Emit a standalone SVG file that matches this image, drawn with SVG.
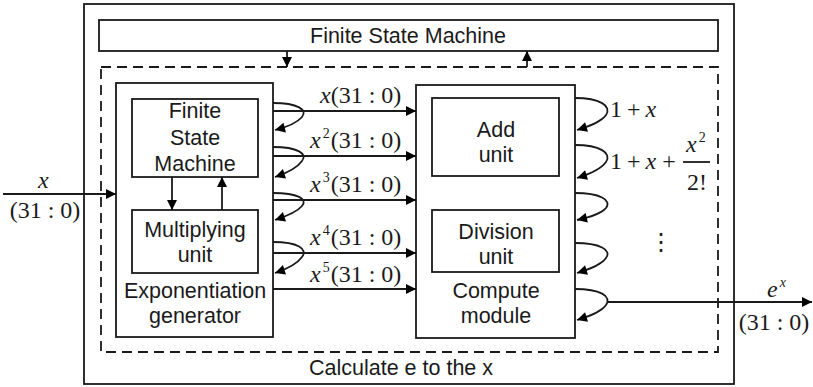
<svg xmlns="http://www.w3.org/2000/svg" width="813" height="387" viewBox="0 0 813 387">
<defs>
<marker id="ah" viewBox="0 0 10 10" refX="10" refY="5" markerWidth="11" markerHeight="10" markerUnits="userSpaceOnUse" orient="auto">
<path d="M0,0 L10,5 L0,10 Z" fill="#000"/>
</marker>
<style>
.box{fill:#fff;stroke:#1a1a1a;stroke-width:1.8}
.dash{fill:none;stroke:#1a1a1a;stroke-width:1.8;stroke-dasharray:10,6}
.ln{fill:none;stroke:#1a1a1a;stroke-width:1.8}
.t{font-family:"Liberation Sans",Arial,sans-serif;font-size:21.5px;fill:#1a1a1a;text-anchor:middle}
.m{font-family:"Liberation Serif","Times New Roman",serif;font-size:24px;fill:#1a1a1a}
.i{font-style:italic}
.sup{font-size:14px}
</style>
</defs>
<rect width="813" height="387" fill="#fff"/>
<g id="outer"><rect class="box" x="84" y="4" width="650" height="380"/></g>
<g id="fsm-top"><rect class="box" x="99" y="20" width="619" height="31"/><text class="t" x="408" y="43">Finite State Machine</text></g>
<g id="calc"><rect class="dash" x="101" y="67" width="617" height="285"/><text class="t" x="401" y="375">Calculate e to the x</text></g>
<g id="expgen"><rect class="box" x="116" y="83" width="157" height="254"/><text class="t" x="195" y="298">Exponentiation</text><text class="t" x="195" y="323">generator</text></g>
<g id="fsm-inner"><rect class="box" x="132" y="99" width="126" height="78"/><text class="t" x="195" y="118">Finite</text><text class="t" x="195" y="145">State</text><text class="t" x="195" y="171">Machine</text></g>
<g id="mult"><rect class="box" x="132" y="210" width="126" height="63"/><text class="t" x="195" y="237">Multiplying</text><text class="t" x="195" y="262">unit</text></g>
<g id="compute"><rect class="box" x="416" y="85" width="159" height="253"/><text class="t" x="496" y="298">Compute</text><text class="t" x="496" y="323">module</text></g>
<g id="add"><rect class="box" x="432" y="98" width="127" height="78"/><text class="t" x="496" y="137">Add</text><text class="t" x="496" y="162">unit</text></g>
<g id="div"><rect class="box" x="432" y="210" width="127" height="62"/><text class="t" x="496" y="239">Division</text><text class="t" x="496" y="264">unit</text></g>
<g id="connectors">
<line class="ln" x1="287" y1="51" x2="287" y2="67" marker-end="url(#ah)"/>
<line class="ln" x1="527" y1="67" x2="527" y2="51" marker-end="url(#ah)"/>
<line class="ln" x1="172" y1="177" x2="172" y2="210" marker-end="url(#ah)"/>
<line class="ln" x1="222" y1="210" x2="222" y2="177" marker-end="url(#ah)"/>
<line class="ln" x1="3" y1="194" x2="116" y2="194" marker-end="url(#ah)"/>
<line class="ln" x1="273" y1="111" x2="416" y2="111" marker-end="url(#ah)"/>
<line class="ln" x1="273" y1="156" x2="416" y2="156" marker-end="url(#ah)"/>
<line class="ln" x1="273" y1="200" x2="416" y2="200" marker-end="url(#ah)"/>
<line class="ln" x1="273" y1="253" x2="416" y2="253" marker-end="url(#ah)"/>
<line class="ln" x1="273" y1="289" x2="416" y2="289" marker-end="url(#ah)"/>
<path class="ln" d="M273,103 C298,103 308,110 302,117 C297,123 287,127 275,130" marker-end="url(#ah)"/>
<path class="ln" d="M273,147 C298,147 308,154 302,161 C297,168 287,173 275,177" marker-end="url(#ah)"/>
<path class="ln" d="M273,193 C298,193 308,199 302,206 C297,212 287,216 275,220" marker-end="url(#ah)"/>
<path class="ln" d="M273,242 C298,242 308,249 302,257 C297,264 287,269 275,273" marker-end="url(#ah)"/>
<path class="ln" d="M575,98 C600,98 612,106 606,115 C601,122 590,126 577,130" marker-end="url(#ah)"/>
<path class="ln" d="M575,145 C600,145 612,153 606,162 C601,169 590,174 577,178" marker-end="url(#ah)"/>
<path class="ln" d="M575,193 C600,193 612,200 606,208 C601,214 590,217 577,220" marker-end="url(#ah)"/>
<path class="ln" d="M575,243 C600,243 612,250 606,258 C601,265 590,269 577,273" marker-end="url(#ah)"/>
<path class="ln" d="M575,289 C600,289 612,296 606,305 C601,312 590,316 577,320" marker-end="url(#ah)"/>
<line class="ln" x1="607" y1="302" x2="812" y2="302" marker-end="url(#ah)"/>
</g>
<g id="labels">
<text class="m i" x="38" y="188">x</text>
<text class="m" x="45" y="218" text-anchor="middle">(31 : 0)</text>
<text class="m" x="320" y="103"><tspan class="i">x</tspan>(31 : 0)</text>
<text class="m" x="310" y="148"><tspan class="i">x</tspan><tspan class="sup" dy="-10" dx="2">2</tspan><tspan dy="10" dx="1">(31 : 0)</tspan></text>
<text class="m" x="310" y="192"><tspan class="i">x</tspan><tspan class="sup" dy="-10" dx="2">3</tspan><tspan dy="10" dx="1">(31 : 0)</tspan></text>
<text class="m" x="310" y="245"><tspan class="i">x</tspan><tspan class="sup" dy="-10" dx="2">4</tspan><tspan dy="10" dx="1">(31 : 0)</tspan></text>
<text class="m" x="310" y="282"><tspan class="i">x</tspan><tspan class="sup" dy="-10" dx="2">5</tspan><tspan dy="10" dx="1">(31 : 0)</tspan></text>
<text class="m" x="610" y="117">1<tspan dx="5">+</tspan><tspan dx="5" class="i">x</tspan></text>
<text class="m" x="610" y="169">1<tspan dx="5">+</tspan><tspan dx="5" class="i">x</tspan><tspan dx="6">+</tspan></text>
<text class="m" x="686" y="152"><tspan class="i">x</tspan><tspan class="sup" dy="-10" dx="2">2</tspan></text>
<line class="ln" x1="683" y1="162" x2="710" y2="162" stroke-width="1.3"/>
<text class="m" x="687" y="190">2!</text>
<text class="m" x="649" y="250">⋮</text>
<text class="m i" x="767" y="297">e<tspan class="sup" dy="-10" dx="2">x</tspan></text>
<text class="m" x="774" y="330" text-anchor="middle">(31 : 0)</text>
</g>
</svg>
